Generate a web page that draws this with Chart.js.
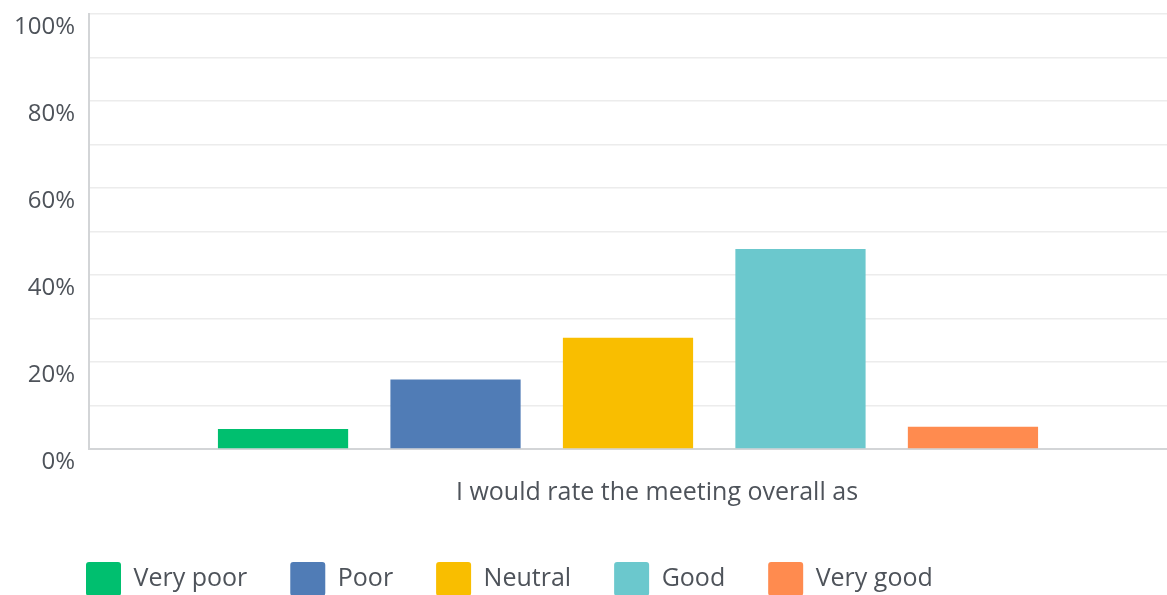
<!DOCTYPE html>
<html>
<head>
<meta charset="utf-8">
<script src="https://cdn.jsdelivr.net/npm/chart.js@4"></script>
<style>
    html, body { margin: 0; padding: 0; background: #fff; overflow: hidden; }
    #wrap { width: 1167px; height: 606px; position: relative; }
</style>
</head>
<body>
<div id="wrap"><canvas id="ratingChart"></canvas></div>
<script>
const categories = ['I would rate the meeting overall as'];
const seriesNames = ['Very poor', 'Poor', 'Neutral', 'Good', 'Very good'];
const seriesValues = [4.6, 16.0, 25.6, 46.0, 5.1];
const seriesColors = ['#00BF6F', '#507CB6', '#F9BE00', '#6BC8CD', '#FF8B4F'];

const textColor = '#4e535a';
const fontFamily = '"Open Sans", "Noto Sans", sans-serif';

const datasets = seriesNames.map((name, i) => ({
    label: name,
    data: [seriesValues[i]],
    backgroundColor: seriesColors[i],
    borderWidth: 0,
    categoryPercentage: 0.8,
    barPercentage: 0.755
}));

// push the legend row right so it starts under the y axis labels
const legendShift = {
    id: 'legendShift',
    afterLayout(chart) {
        chart.legend.left += 43;
    }
};

const ctx = document.getElementById('ratingChart').getContext('2d');
new Chart(ctx, {
    type: 'bar',
    data: { labels: categories, datasets: datasets },
    plugins: [legendShift],
    options: {
        responsive: true,
        maintainAspectRatio: false,
        animation: false,
        layout: { padding: { top: 14, right: 0, left: 0, bottom: 0 } },
        plugins: {
            tooltip: { enabled: false },
            legend: {
                position: 'bottom',
                align: 'start',
                labels: {
                    color: textColor,
                    font: { family: fontFamily, size: 25 },
                    boxWidth: 35,
                    boxHeight: 34,
                    padding: 43,
                    useBorderRadius: true,
                    borderRadius: 3
                }
            }
        },
        scales: {
            x: {
                grid: { display: false },
                border: { color: '#d3d5d7', width: 2 },
                ticks: {
                    color: textColor,
                    font: { family: fontFamily, size: 25 },
                    padding: 21,
                    labelOffset: 29
                },
                afterFit: s => { s.height = 70; }
            },
            y: {
                min: 0,
                max: 100,
                grid: { color: '#ececec', drawTicks: false, lineWidth: 1.5 },
                border: { color: '#d3d5d7', width: 2 },
                ticks: {
                    stepSize: 10,
                    color: textColor,
                    font: { family: fontFamily, size: 24 },
                    padding: 14,
                    labelOffset: 13,
                    callback: v => v % 20 === 0 ? v + '%' : ''
                },
                afterFit: s => { s.width = 89; s.paddingTop = 0; s.paddingBottom = 0; }
            }
        }
    }
});
</script>
</body>
</html>
